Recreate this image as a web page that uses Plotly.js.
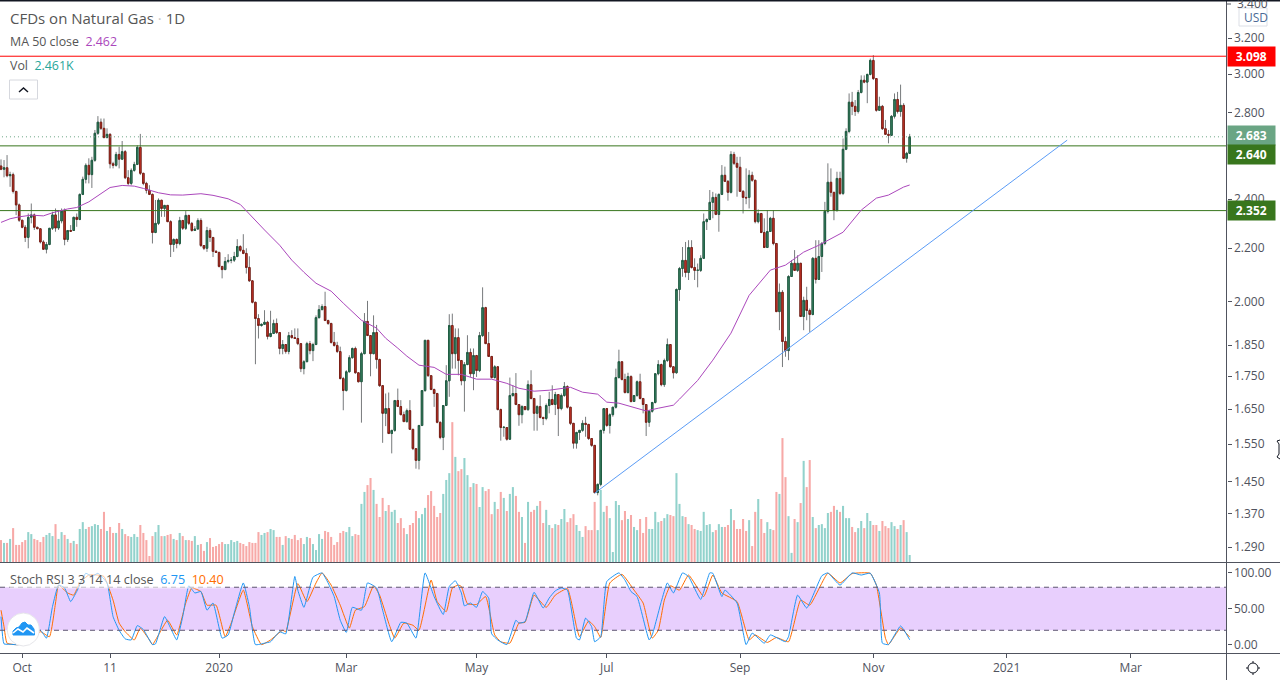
<!DOCTYPE html>
<html><head><meta charset="utf-8">
<script src="https://cdn.plot.ly/plotly-3.0.1.min.js"></script>
<style>html,body{margin:0;padding:0;background:#fff}#c{width:1280px;height:680px}</style>
</head><body><div id="c"></div>
<script>
const open=[2.547,2.532,2.539,2.503,2.508,2.434,2.376,2.312,2.283,2.242,2.324,2.334,2.283,2.277,2.224,2.195,2.214,2.279,2.334,2.280,2.309,2.350,2.234,2.270,2.270,2.324,2.315,2.421,2.487,2.550,2.508,2.573,2.700,2.754,2.724,2.680,2.695,2.557,2.550,2.600,2.578,2.613,2.494,2.469,2.527,2.554,2.633,2.514,2.469,2.439,2.421,2.262,2.299,2.396,2.361,2.374,2.306,2.214,2.234,2.218,2.311,2.279,2.332,2.299,2.270,2.276,2.311,2.210,2.199,2.270,2.242,2.187,2.183,2.129,2.117,2.148,2.152,2.153,2.167,2.206,
2.191,2.179,2.125,2.075,1.997,1.940,1.916,1.920,1.927,1.879,1.889,1.923,1.892,1.839,1.852,1.829,1.882,1.875,1.872,1.855,1.774,1.796,1.855,1.832,1.852,1.943,1.971,1.982,1.933,1.923,1.859,1.849,1.829,1.743,1.706,1.764,1.809,1.839,1.761,1.733,1.822,1.930,1.882,1.822,1.892,1.803,1.721,1.638,1.652,1.580,1.589,1.676,1.658,1.634,1.614,1.646,1.592,1.538,1.506,1.603,1.706,1.866,1.752,1.709,1.697,1.612,1.569,1.661,1.736,1.916,
1.822,1.875,1.800,1.736,1.787,1.826,1.758,1.816,1.768,1.882,1.978,1.855,1.813,1.746,1.780,1.649,1.597,1.597,1.564,1.691,1.697,1.664,1.634,1.658,1.649,1.724,1.682,1.638,1.658,1.626,1.623,1.661,1.679,1.664,1.694,1.652,1.691,1.718,1.656,1.609,1.553,1.583,1.589,1.609,1.606,1.566,1.547,1.422,1.443,1.589,1.652,1.603,1.634,1.656,1.746,1.796,1.740,1.700,1.749,1.673,1.691,1.733,1.682,1.664,1.612,1.644,1.670,1.758,1.787,1.724,
1.800,1.852,1.780,1.761,2.043,2.121,2.152,2.106,2.202,2.125,2.114,2.114,2.160,2.306,2.315,2.387,2.408,2.336,2.421,2.505,2.478,2.430,2.600,2.559,2.541,2.434,2.408,2.408,2.505,2.483,2.306,2.340,2.262,2.202,2.266,2.320,2.218,1.964,2.033,1.862,1.832,2.091,2.141,2.114,2.141,1.947,2.004,1.968,1.954,2.160,2.080,2.167,2.218,2.349,2.474,2.430,2.353,2.491,2.425,2.624,2.709,2.854,2.833,2.807,2.904,2.968,2.958,2.999,3.075,2.977,2.813,2.833,2.722,2.695,2.690,2.783,2.868,2.807,2.838,2.582,2.605];
const close=[2.532,2.539,2.503,2.508,2.434,2.376,2.312,2.283,2.242,2.324,2.334,2.283,2.277,2.224,2.195,2.214,2.279,2.334,2.280,2.309,2.350,2.234,2.270,2.267,2.324,2.315,2.421,2.487,2.550,2.508,2.573,2.700,2.754,2.724,2.680,2.695,2.557,2.550,2.600,2.578,2.613,2.494,2.469,2.527,2.554,2.633,2.514,2.469,2.439,2.421,2.262,2.299,2.396,2.361,2.374,2.306,2.214,2.234,2.218,2.311,2.279,2.332,2.299,2.270,2.276,2.311,2.210,2.199,2.270,2.242,2.187,2.183,2.129,2.117,2.148,2.152,2.153,2.167,2.206,2.191,
2.179,2.125,2.075,1.997,1.940,1.916,1.920,1.927,1.879,1.889,1.923,1.892,1.839,1.852,1.829,1.882,1.875,1.872,1.855,1.774,1.796,1.855,1.832,1.852,1.943,1.971,1.982,1.933,1.923,1.859,1.849,1.829,1.743,1.706,1.764,1.809,1.839,1.761,1.733,1.822,1.930,1.882,1.822,1.892,1.803,1.721,1.638,1.652,1.580,1.589,1.676,1.658,1.634,1.614,1.646,1.592,1.538,1.506,1.603,1.706,1.866,1.752,1.709,1.697,1.612,1.569,1.661,1.736,1.916,1.822,
1.875,1.800,1.736,1.787,1.826,1.758,1.816,1.768,1.882,1.978,1.855,1.813,1.746,1.780,1.649,1.597,1.598,1.564,1.691,1.697,1.664,1.634,1.658,1.649,1.724,1.682,1.638,1.658,1.626,1.623,1.661,1.679,1.664,1.694,1.652,1.691,1.718,1.656,1.609,1.553,1.583,1.589,1.609,1.606,1.566,1.547,1.422,1.443,1.589,1.652,1.603,1.634,1.656,1.746,1.796,1.740,1.700,1.749,1.673,1.691,1.733,1.682,1.664,1.612,1.644,1.670,1.758,1.787,1.724,1.800,
1.852,1.780,1.761,2.043,2.121,2.152,2.106,2.202,2.125,2.114,2.115,2.160,2.306,2.315,2.387,2.408,2.336,2.421,2.505,2.478,2.430,2.600,2.559,2.541,2.434,2.408,2.406,2.505,2.483,2.306,2.340,2.262,2.202,2.266,2.320,2.218,1.964,2.033,1.862,1.832,2.091,2.141,2.114,2.141,1.947,2.004,1.968,1.954,2.160,2.080,2.167,2.218,2.349,2.474,2.430,2.353,2.491,2.425,2.624,2.709,2.854,2.833,2.807,2.904,2.968,2.958,2.999,3.075,2.977,2.813,2.833,2.722,2.695,2.690,2.783,2.868,2.807,2.838,2.582,2.605,2.683];
const high=[2.577,2.574,2.597,2.521,2.517,2.435,2.382,2.312,2.292,2.340,2.382,2.340,2.285,2.279,2.231,2.224,2.279,2.347,2.361,2.354,2.361,2.361,2.272,2.292,2.326,2.340,2.425,2.499,2.559,2.582,2.589,2.716,2.784,2.772,2.772,2.724,2.700,2.566,2.612,2.636,2.663,2.620,2.528,2.536,2.566,2.643,2.697,2.514,2.476,2.461,2.425,2.397,2.404,2.397,2.375,2.375,2.312,2.238,2.238,2.326,2.312,2.350,2.334,2.305,2.288,2.320,2.320,2.211,2.285,2.279,2.242,2.192,2.185,2.129,2.165,2.176,2.165,2.185,2.235,2.211,
2.255,2.199,2.168,2.078,1.999,1.955,1.923,1.969,1.932,1.967,1.936,1.940,1.894,1.867,1.852,1.894,1.900,1.906,1.906,1.855,1.801,1.861,1.864,1.858,1.951,1.987,1.990,2.035,1.936,1.925,1.894,1.861,1.845,1.748,1.769,1.817,1.842,1.845,1.761,1.828,1.959,2.002,1.882,1.951,1.918,1.806,1.721,1.697,1.700,1.590,1.677,1.712,1.677,1.643,1.652,1.677,1.592,1.538,1.604,1.707,1.867,1.867,1.752,1.712,1.699,1.614,1.662,1.785,1.955,1.957,
1.906,1.906,1.800,1.795,1.883,1.839,1.839,1.818,1.894,2.051,1.981,1.894,1.813,1.785,1.780,1.652,1.599,1.597,1.746,1.722,1.760,1.664,1.662,1.658,1.737,1.769,1.682,1.662,1.692,1.628,1.667,1.702,1.722,1.702,1.694,1.697,1.732,1.722,1.656,1.609,1.585,1.590,1.618,1.628,1.606,1.566,1.547,1.445,1.590,1.652,1.652,1.638,1.657,1.774,1.835,1.796,1.758,1.761,1.753,1.691,1.737,1.758,1.682,1.664,1.647,1.672,1.758,1.801,1.790,1.806,
1.872,1.852,1.761,2.047,2.127,2.204,2.224,2.231,2.231,2.160,2.140,2.172,2.340,2.320,2.440,2.432,2.425,2.425,2.551,2.544,2.484,2.615,2.612,2.589,2.589,2.440,2.536,2.528,2.521,2.483,2.357,2.340,2.320,2.354,2.326,2.354,2.218,2.065,2.041,1.878,2.096,2.153,2.192,2.172,2.141,2.017,2.053,1.975,2.165,2.231,2.231,2.224,2.389,2.559,2.536,2.430,2.521,2.521,2.675,2.724,2.899,2.907,2.865,2.917,2.994,2.994,3.003,3.085,3.104,2.977,2.882,2.840,2.765,2.716,2.789,2.899,2.907,2.945,2.849,2.612,2.697];
const low=[2.528,2.496,2.496,2.454,2.425,2.333,2.305,2.279,2.224,2.199,2.299,2.272,2.277,2.218,2.195,2.179,2.211,2.272,2.265,2.272,2.299,2.211,2.224,2.265,2.268,2.285,2.312,2.418,2.469,2.469,2.449,2.566,2.692,2.716,2.675,2.675,2.536,2.536,2.544,2.536,2.574,2.488,2.461,2.461,2.521,2.551,2.506,2.461,2.425,2.418,2.218,2.259,2.292,2.326,2.326,2.305,2.165,2.185,2.199,2.211,2.272,2.272,2.292,2.265,2.268,2.272,2.204,2.192,2.185,2.224,2.165,2.182,2.125,2.084,2.115,2.141,2.141,2.146,2.164,2.185,
2.176,2.102,2.071,1.993,1.788,1.872,1.912,1.918,1.869,1.876,1.887,1.887,1.820,1.820,1.822,1.820,1.872,1.872,1.850,1.763,1.756,1.795,1.820,1.798,1.850,1.940,1.969,1.933,1.918,1.855,1.845,1.824,1.740,1.647,1.703,1.762,1.806,1.758,1.731,1.611,1.820,1.880,1.750,1.820,1.774,1.717,1.554,1.601,1.579,1.525,1.585,1.657,1.633,1.614,1.611,1.590,1.534,1.484,1.482,1.601,1.702,1.748,1.709,1.657,1.609,1.564,1.534,1.661,1.687,1.774,
1.774,1.753,1.722,1.643,1.785,1.748,1.707,1.748,1.763,1.877,1.855,1.812,1.743,1.743,1.647,1.560,1.571,1.560,1.562,1.687,1.662,1.602,1.609,1.647,1.645,1.679,1.588,1.588,1.623,1.604,1.618,1.638,1.662,1.633,1.573,1.647,1.687,1.652,1.604,1.538,1.538,1.562,1.585,1.571,1.562,1.543,1.420,1.415,1.438,1.580,1.599,1.580,1.628,1.652,1.743,1.737,1.697,1.697,1.670,1.673,1.687,1.679,1.638,1.573,1.599,1.640,1.667,1.753,1.719,1.717,
1.795,1.777,1.743,1.758,2.002,2.090,2.088,2.078,2.121,2.078,2.051,2.108,2.160,2.272,2.312,2.320,2.333,2.265,2.418,2.475,2.394,2.425,2.551,2.411,2.432,2.340,2.379,2.361,2.476,2.299,2.299,2.259,2.202,2.202,2.265,2.211,1.963,1.900,1.779,1.812,1.801,2.090,2.114,2.108,1.945,1.900,1.934,1.894,1.951,2.065,2.078,2.108,2.211,2.340,2.411,2.312,2.347,2.418,2.418,2.620,2.700,2.789,2.785,2.797,2.899,2.952,2.849,2.994,2.969,2.806,2.810,2.716,2.692,2.652,2.687,2.772,2.797,2.781,2.580,2.562,2.602];
const volumeK=[7.7,6.7,6.7,8.1,11.9,6.0,6.0,7.0,7.7,10.5,9.8,8.1,7.7,7.0,8.8,9.5,10.2,9.1,13.3,8.1,10.5,9.5,8.1,6.7,7.4,6.3,11.6,14.0,11.6,12.3,12.6,13.3,13.0,11.6,17.6,10.9,12.3,10.2,10.2,13.7,11.6,9.8,9.1,8.8,9.8,8.8,13.0,10.2,7.7,2.1,9.1,10.5,13.0,9.1,9.1,9.5,9.8,8.1,7.7,10.2,9.1,7.7,7.7,7.4,9.1,6.0,6.3,3.9,7.0,8.4,5.3,5.6,6.3,7.0,6.3,6.3,7.7,7.0,7.4,6.7,6.3,5.6,7.0,6.7,6.7,10.5,9.5,10.2,10.5,11.6,11.2,8.8,8.8,6.0,9.1,8.4,8.1,9.5,7.7,8.4,6.3,8.8,8.4,6.3,4.2,9.8,8.1,10.9,10.5,8.8,6.0,7.0,10.2,10.9,
10.5,12.3,9.1,9.8,9.5,20.4,24.6,27.0,29.5,25.3,20.4,15.8,22.5,17.9,20.0,17.6,18.3,13.7,15.4,11.9,9.8,13.0,13.7,17.9,15.4,16.8,19.0,23.5,24.9,19.7,15.8,17.2,23.9,28.8,31.2,49.1,36.9,31.9,
32.6,36.5,30.5,26.3,27.7,27.4,19.3,26.3,24.9,25.6,16.8,21.1,18.6,24.6,22.5,17.9,23.9,26.3,23.2,17.6,15.8,6.7,21.1,17.6,18.3,19.7,21.4,13.7,18.3,13.0,11.9,13.3,13.0,15.1,18.6,14.0,15.4,16.8,13.0,10.9,8.8,12.6,11.2,11.2,21.1,11.2,25.3,17.6,19.7,15.4,3.5,21.4,20.0,14.7,17.9,15.1,16.5,12.3,11.2,15.1,10.2,15.8,11.6,11.6,17.6,14.0,14.4,15.4,16.8,16.5,16.1,31.2,20.4,16.1,15.8,13.3,13.0,11.6,11.2,10.9,17.6,13.0,13.3,10.5,11.2,13.3,12.3,12.3,13.0,18.6,14.7,11.6,11.6,15.1,10.9,14.7,5.6,17.6,22.1,15.1,10.2,14.0,11.6,11.2,24.6,23.9,43.5,29.8,16.1,3.2,15.1,14.0,20.7,35.5,26.3,35.8,15.8,11.9,13.0,13.3,11.9,17.2,17.6,19.7,18.3,17.6,19.7,15.4,15.4,12.3,10.5,11.9,14.4,11.9,17.2,14.4,13.0,13.0,10.9,14.4,12.6,11.9,14.0,12.6,11.6,13.0,14.7,10.5,2.461];
const maIndex=[0,3,6,10,14,17,22,25,29,33,36,40,44,47,52,56,60,66,70,75,79,87,92,96,100,104,109,113,116,119,124,127,131,134,138,143,147,152,157,162,167,171,176,181,188,192,197,200,204,209,213,217,222,224,230,235,241,247,254,259,265,270,278,284,289,293,298,300];
const maValue=[2.303,2.318,2.326,2.333,2.330,2.343,2.359,2.365,2.389,2.425,2.451,2.460,2.457,2.447,2.428,2.419,2.418,2.424,2.417,2.402,2.378,2.272,2.211,2.153,2.107,2.066,2.037,1.994,1.962,1.934,1.907,1.873,1.840,1.814,1.785,1.778,1.756,1.756,1.741,1.741,1.728,1.713,1.704,1.707,1.716,1.701,1.695,1.671,1.668,1.656,1.645,1.653,1.662,1.680,1.737,1.801,1.890,2.022,2.115,2.134,2.184,2.211,2.263,2.354,2.405,2.418,2.453,2.462];
const stochIndex=[0,1,3,6,13,15,17,19,21,23,25,28,30,32,35,37,39,41,43,45,47,50,51,54,56,58,60,62,64,66,68,70,73,75,77,80,82,84,87,89,92,94,97,98,100,103,106,108,110,112,114,116,119,121,124,126,129,132,134,137,140,143,146,148,150,152,153,155,157,159,161,162,164,167,170,171,173,176,179,181,183,185,187,190,191,193,195,196,198,200,204,206,208,210,214,215,218,220,222,225,227,231,234,235,238,239,243,246,248,252,254,259,260,263,266,271,273,277,281,284,287,290,291,293,297,300];
const stochK=[39,1,0.5,0,20,9,53,83,79,60,74,99.5,95,99.5,86,39,20,8,6.5,26.5,21,0,1,39,23,6.5,39,82,72,74,48,58,9,13.5,44,86,53,0,2,4,18,15,95,76,52,94,100,86,67,34,17,52,48,86,79,48,4,31,30,9,100,67,42,81,89,72,54,58,52,74,65,15,6.5,0,34,30,32,73,51,65,75,79,76,9,6.5,37,25,4,11,88,100,90,74,67,6.5,13.5,60,86,72,100,95,63,100,99.5,67,76,58,0,16,2,13.5,4,11,69,51,96,100,83,100,97,99.5,72,2,0,26,6.75];
const stochDIndex=[0,1,2,6,13,16,18,19,22,24,26,29,32,34,37,39,41,44,46,49,50,52,55,58,61,63,66,68,71,74,76,80,83,86,89,93,94,98,101,104,106,109,112,115,117,120,123,125,128,130,133,136,138,142,144,147,149,151,152,154,157,160,163,165,168,171,173,176,180,183,187,190,191,194,196,198,201,205,209,212,215,217,219,221,224,227,232,235,238,243,247,249,253,256,260,264,267,273,277,281,287,289,292,293,297,300];
const stochD=[48,25,2,0,18,11,58,83,72,69,86,97,97,95,62,30,18,6.5,23,6.5,0,13.5,34,13.5,58,79,74,55,55,11,30,76,25,0,6.5,20,18,85,60,86,100,83,55,23,48,53,82,69,30,9,30,27,20,90,60,46,79,83,81,57,56,67,13.5,4,2,30,31,69,52,69,78,25,11,33,25,10,86,98,76,58,9,20,62,82,76,97,67,97,72,60,6.5,13.5,3,10,4,62,55,99.5,86,99,99.5,83,9,0,23,10.4];
const tickIndex=[7,36,72,114,157,200,244,288,332,373];
const tickLabels=["Oct","11","2020","Mar","May","Jul","Sep","Nov","2021","Mar"];
const priceTicks=[3.2,3.0,2.8,2.4,2.2,2.0,1.85,1.75,1.65,1.55,1.45,1.37,1.29];
const stochTicks=[0,50,100];
const resistanceLevel=3.098, lastClose=2.683, supportUpper=2.640, supportLower=2.352;
const trendIndex=[196,352], trendPrice=[1.4205,2.667];
const maLast="2.462", volLast="2.461K", stochKLast="6.75", stochDLast="10.40";

const W=1280,H=680;
const X=px=>px/W, Y=py=>1-py/H;
const idx=open.map((_,i)=>i);
const xEdge=[-1,405];
const volColor=idx.map(i=>close[i]>=open[i]?'#92d2cc':'#f7a9a7');
const bodyHi=idx.map(i=>Math.max(open[i],close[i]));
const bodyLo=idx.map(i=>Math.min(open[i],close[i]));
const hline=(v,color,dash)=>({type:'scatter',mode:'lines',x:xEdge,y:[v,v],xaxis:'x',yaxis:'y2',line:{color:color,width:1,dash:dash||'solid'},hoverinfo:'skip'});
const wick={color:'#777a7c',width:1};
const data=[
 {type:'bar',x:idx,y:volumeK.slice(0,idx.length),xaxis:'x',yaxis:'y',marker:{color:volColor,line:{width:0}},width:0.68,hoverinfo:'skip'},
 hline(lastClose,'#6aa584','1px,3px'),
 hline(resistanceLevel,'#ff0000'),
 hline(supportUpper,'#38761d'),
 hline(supportLower,'#38761d'),
 {type:'scatter',mode:'lines',x:trendIndex,y:trendPrice,xaxis:'x',yaxis:'y2',line:{color:'#5b9cf6',width:1},hoverinfo:'skip'},
 {type:'candlestick',x:idx,open:open,high:high,low:low,close:close,xaxis:'x',yaxis:'y2',whiskerwidth:0,
  increasing:{line:wick,fillcolor:'#3f8a68'},decreasing:{line:wick,fillcolor:'#e0392b'},hoverinfo:'skip'},
 {type:'candlestick',x:idx,open:open,high:bodyHi,low:bodyLo,close:close,xaxis:'x',yaxis:'y2',whiskerwidth:0,
  increasing:{line:{color:'#1f5c42',width:1},fillcolor:'#3f8a68'},decreasing:{line:{color:'#7b1f16',width:1},fillcolor:'#e0392b'},hoverinfo:'skip'},
 {type:'scatter',mode:'lines',x:maIndex,y:maValue,xaxis:'x',yaxis:'y2',line:{color:'#ab47bc',width:1},hoverinfo:'skip'},
 {type:'scatter',mode:'lines',x:stochDIndex,y:stochD,xaxis:'x',yaxis:'y3',line:{color:'#ff6d00',width:1,shape:'spline',smoothing:0.4},hoverinfo:'skip'},
 {type:'scatter',mode:'lines',x:stochIndex,y:stochK,xaxis:'x',yaxis:'y3',line:{color:'#2196f3',width:1,shape:'spline',smoothing:0.4},hoverinfo:'skip'}
];
const font='"Open Sans",sans-serif';
const axisCol='#50535e';
const pxLine=(x0,y0,x1,y1,color,w)=>({type:'line',xref:'paper',yref:'paper',x0:X(x0),y0:Y(y0),x1:X(x1),y1:Y(y1),line:{color:color,width:w||1},layer:'above'});
const path=(pts,close_)=>'M'+pts.map(p=>X(p[0])+','+Y(p[1])).join(' L')+(close_?' Z':'');
const tag=(cy,col,label)=>({xref:'paper',yref:'paper',x:X(1226.5),y:Y(cy),xanchor:'left',yanchor:'middle',text:'<b>'+label+'</b>',showarrow:false,
   bgcolor:col,width:46.5,height:19,align:'center',valign:'middle',font:{family:font,size:12,color:'#fff'},borderpad:0});
const txt=(x,y,t,size,extra)=>Object.assign({xref:'paper',yref:'paper',x:X(x),y:Y(y),xanchor:'left',yanchor:'middle',text:t,showarrow:false,font:{family:font,size:size,color:'#555'},borderpad:0},extra||{});
const shapes=[
 {type:'rect',xref:'paper',yref:'y3',x0:0,x1:X(1226.5),y0:20,y1:80,fillcolor:'#e8cffd',line:{width:0},layer:'below'},
 {type:'line',xref:'paper',yref:'y3',x0:0,x1:X(1226.5),y0:80,y1:80,line:{color:'#5d5670',width:1,dash:'5px,4px'},layer:'above'},
 {type:'line',xref:'paper',yref:'y3',x0:0,x1:X(1226.5),y0:20,y1:20,line:{color:'#5d5670',width:1,dash:'5px,4px'},layer:'above'},
 pxLine(0,562.5,1280,562.5,axisCol),
 pxLine(0,653.5,1280,653.5,axisCol),
 pxLine(1226.5,0,1226.5,680,axisCol),
 pxLine(1226.5,4,1231,4,axisCol),
 pxLine(0,0.5,1280,0.5,'#131722',2),
 // collapse button
 {type:'rect',xref:'paper',yref:'paper',x0:X(9.5),x1:X(37.5),y0:Y(80),y1:Y(99),line:{color:'#d6d8de',width:1},fillcolor:'#fff',layer:'above'},
 {type:'path',xref:'paper',yref:'paper',path:path([[19,92],[23.5,88],[28,92]]),line:{color:'#131722',width:1.5},layer:'above'},
 // USD box
 {type:'rect',xref:'paper',yref:'paper',x0:X(1239),x1:X(1267),y0:Y(8),y1:Y(26),line:{color:'#dcdfe6',width:1},fillcolor:'#fff',layer:'above'},
 // logo
 {type:'circle',xref:'paper',yref:'paper',x0:X(7.3),x1:X(39.3),y0:Y(613),y1:Y(646),fillcolor:'#fff',line:{color:'#e6e6ea',width:1},layer:'above'},
 {type:'path',xref:'paper',yref:'paper',path:path([[13,635],[13,631],[16,628],[19,627],[22,623],[25,622],[28,625],[31,625],[34,629],[34.5,635]],true),fillcolor:'#2196f3',line:{color:'#2196f3',width:1},layer:'above'},
 {type:'path',xref:'paper',yref:'paper',path:path([[13,633],[18,629],[23,632],[27,628],[34,633]]),line:{color:'#fff',width:1.6},layer:'above'},
 // settings icon
 {type:'circle',xref:'paper',yref:'paper',x0:X(1248),x1:X(1258),y0:Y(663),y1:Y(673),fillcolor:'rgba(0,0,0,0)',line:{color:'#131722',width:1},layer:'above'},
 pxLine(1253,661,1253,663,'#131722'),pxLine(1253,673,1253,675,'#131722'),pxLine(1246,668,1248,668,'#131722'),pxLine(1258,668,1260,668,'#131722'),
 // pointer fragment at the right edge
 {type:'path',xref:'paper',yref:'paper',path:path([[1280,440],[1277,441],[1279,444],[1279,454],[1277,457],[1280,459]]),line:{color:'#131722',width:1},layer:'above'}
];
const annotations=[
 txt(8.5,17.5,'CFDs on Natural Gas <span style="color:#c8c8c8">·</span> 1D',15),
 txt(8.5,41.5,'MA 50 close  <span style="color:#ab47bc">'+maLast+'</span>',12.4),
 txt(8.5,65.5,'Vol  <span style="color:#26a69a">'+volLast+'</span>',12.4),
 txt(8.5,579.5,'Stoch RSI 3 3 14 14 close  <span style="color:#2196f3">'+stochKLast+'</span>  <span style="color:#ff6d00">'+stochDLast+'</span>',12.6,{bgcolor:'rgba(255,255,255,.6)'}),
 tag(56.5,'#ff0000','3.098'),
 tag(136,'#6aa584','2.683'),
 tag(154.5,'#38761d','2.640'),
 tag(210.5,'#38761d','2.352'),
 txt(1236,4,'3.400',12,{font:{family:font,size:12,color:axisCol}}),
 txt(1243,17,'USD',12,{font:{family:font,size:12,color:'#4a6a96'}})
];
const layout={
 width:W,height:H,margin:{l:0,r:0,t:0,b:0},paper_bgcolor:'#fff',plot_bgcolor:'#fff',showlegend:false,hovermode:false,dragmode:false,boxgap:0.3,
 xaxis:{domain:[0,1226.5/W],range:[-0.33,404.6],anchor:'y3',showgrid:false,zeroline:false,showline:false,rangeslider:{visible:false},
  tickmode:'array',tickvals:tickIndex,ticktext:tickLabels,ticks:'outside',ticklen:4,tickcolor:axisCol,tickfont:{family:font,size:12,color:axisCol}},
 yaxis:{domain:[(H-562)/H,1],range:[0,197.3],visible:false,fixedrange:true},
 yaxis2:{domain:[(H-562)/H,1],overlaying:'y',side:'right',type:'log',range:[Math.log10(1.2563),Math.log10(3.425)],anchor:'x',showgrid:false,zeroline:false,showline:false,
  tickmode:'array',tickvals:priceTicks,ticktext:priceTicks.map(v=>v.toFixed(3)),ticks:'outside',ticklen:4,tickcolor:axisCol,tickfont:{family:font,size:12,color:axisCol}},
 yaxis3:{domain:[(H-653)/H,(H-563)/H],range:[-11.7,113.8],side:'right',anchor:'x',showgrid:false,zeroline:false,showline:false,
  tickmode:'array',tickvals:stochTicks,ticktext:stochTicks.map(v=>v.toFixed(2)),ticks:'outside',ticklen:4,tickcolor:axisCol,tickfont:{family:font,size:12,color:axisCol}},
 shapes:shapes,annotations:annotations
};
Plotly.newPlot('c',data,layout,{displayModeBar:false,staticPlot:true});
</script></body></html>
